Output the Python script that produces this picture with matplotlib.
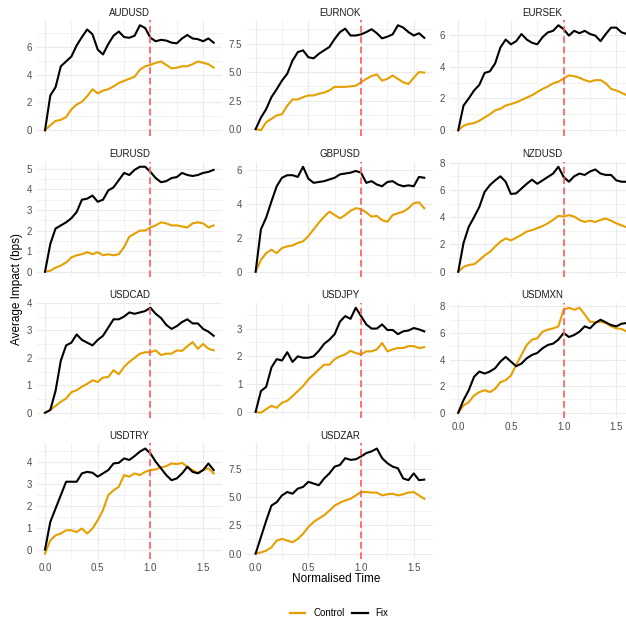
import matplotlib
matplotlib.use('Agg')
import matplotlib.pyplot as plt
from matplotlib.lines import Line2D
from matplotlib.ticker import FixedLocator, FixedFormatter

plt.rcParams['font.family'] = ['Liberation Sans', 'DejaVu Sans']

# ---------------- data ----------------
times = [0.0, 0.05, 0.1, 0.15, 0.2, 0.25, 0.3, 0.35, 0.4, 0.45, 0.5, 0.55, 0.6,
         0.65, 0.7, 0.75, 0.8, 0.85, 0.9, 0.95, 1.0, 1.05, 1.1, 1.15, 1.2, 1.25,
         1.3, 1.35, 1.4, 1.45, 1.5, 1.55, 1.6]

pairs = ['AUDUSD', 'EURNOK', 'EURSEK', 'EURUSD', 'GBPUSD', 'NZDUSD',
         'USDCAD', 'USDJPY', 'USDMXN', 'USDTRY', 'USDZAR']

AUDUSD_fix = [0, 2.5, 3.1, 4.6, 4.95, 5.3, 6.1, 6.7, 7.25, 6.9, 5.8, 5.45, 6.2, 6.8, 7.1, 6.7,
              6.65, 6.8, 7.55, 7.35, 6.65, 6.4, 6.5, 6.45, 6.3, 6.25, 6.6, 6.85, 6.6, 6.55, 6.4, 6.6, 6.3]
AUDUSD_control = [0, 0.36, 0.67, 0.75, 0.95, 1.5, 1.85, 2.05, 2.45, 2.95, 2.65, 2.85, 2.95, 3.15, 3.4, 3.55,
                  3.7, 3.85, 4.35, 4.6, 4.7, 4.85, 4.95, 4.7, 4.45, 4.5, 4.6, 4.6, 4.75, 4.95, 4.85, 4.75, 4.5]

EURNOK_fix = [0, 1.0, 1.75, 2.8, 3.5, 4.25, 4.85, 6.0, 6.75, 6.9, 6.3, 6.2, 6.6, 6.9, 7.2, 7.9,
              8.5, 8.8, 8.2, 8.2, 8.3, 8.5, 8.75, 8.4, 7.95, 8.1, 8.3, 9.1, 8.9, 8.5, 8.2, 8.4, 8.0]
EURNOK_control = [0, -0.1, 0.6, 0.9, 1.2, 1.3, 2.05, 2.6, 2.6, 2.8, 2.95, 2.95, 3.1, 3.2, 3.4, 3.7,
                  3.7, 3.7, 3.75, 3.8, 4.1, 4.4, 4.65, 4.8, 4.25, 4.4, 4.7, 4.4, 4.1, 3.95, 4.5, 5.0, 4.95]

EURSEK_fix = [0, 1.55, 2.0, 2.5, 2.85, 3.6, 3.7, 4.2, 5.2, 5.7, 5.4, 5.6, 6.05, 5.7, 5.5, 5.4,
              5.85, 6.15, 6.25, 6.6, 6.35, 5.95, 6.25, 6.1, 6.25, 6.05, 5.95, 5.6, 6.05, 6.45, 6.45, 6.15, 6.05]
EURSEK_control = [0, 0.28, 0.4, 0.45, 0.6, 0.8, 1.0, 1.25, 1.35, 1.55, 1.65, 1.75, 1.9, 2.05, 2.2, 2.4,
                  2.6, 2.75, 2.95, 3.05, 3.25, 3.45, 3.4, 3.3, 3.15, 3.05, 3.15, 3.15, 2.95, 2.6, 2.5, 2.35, 2.2]

EURUSD_fix = [0, 1.35, 2.1, 2.25, 2.4, 2.6, 2.9, 3.5, 3.55, 3.7, 3.4, 3.5, 3.95, 4.1, 4.45, 4.8,
              4.7, 4.95, 5.1, 5.1, 4.85, 4.55, 4.35, 4.4, 4.55, 4.6, 4.8, 4.7, 4.65, 4.7, 4.8, 4.85, 4.95]
EURUSD_control = [0, 0.05, 0.2, 0.3, 0.45, 0.7, 0.8, 0.85, 0.95, 0.85, 0.95, 0.8, 0.85, 0.8, 0.85, 1.2,
                  1.7, 1.85, 2.0, 2.0, 2.15, 2.25, 2.4, 2.35, 2.25, 2.25, 2.2, 2.15, 2.35, 2.4, 2.35, 2.15, 2.25]

GBPUSD_fix = [0, 2.5, 3.2, 4.15, 5.05, 5.55, 5.7, 5.7, 5.6, 6.2, 5.5, 5.25, 5.3, 5.35, 5.45, 5.55,
              5.75, 5.8, 5.85, 5.95, 5.85, 5.25, 5.35, 5.15, 5.05, 5.3, 5.35, 5.15, 5.05, 5.1, 5.05, 5.6, 5.55]
GBPUSD_control = [0, 0.7, 1.1, 1.3, 1.1, 1.4, 1.5, 1.55, 1.7, 1.8, 2.1, 2.5, 2.9, 3.25, 3.55, 3.35,
                  3.15, 3.35, 3.6, 3.75, 3.7, 3.5, 3.25, 3.3, 3.05, 2.95, 3.35, 3.45, 3.55, 3.75, 4.05, 4.1, 3.75]

NZDUSD_fix = [0, 2.1, 3.3, 4.0, 4.75, 5.85, 6.35, 6.7, 7.0, 6.6, 5.7, 5.75, 6.1, 6.45, 6.75, 6.45,
              6.7, 6.95, 7.2, 7.7, 6.95, 6.6, 7.0, 7.2, 7.1, 7.35, 7.5, 7.2, 7.1, 7.1, 6.7, 6.6, 6.6]
NZDUSD_control = [0, 0.35, 0.5, 0.55, 0.85, 1.2, 1.45, 1.85, 2.2, 2.45, 2.3, 2.5, 2.7, 2.95, 3.05, 3.2,
                  3.35, 3.55, 3.8, 4.1, 4.05, 4.15, 4.05, 3.8, 3.65, 3.75, 3.65, 3.8, 3.9, 3.75, 3.55, 3.4, 3.25]

USDCAD_fix = [0, 0.1, 0.8, 1.9, 2.45, 2.55, 2.85, 2.65, 2.55, 2.45, 2.65, 2.8, 3.1, 3.4, 3.4, 3.5,
              3.65, 3.6, 3.65, 3.7, 3.82, 3.6, 3.45, 3.2, 3.05, 3.15, 3.3, 3.4, 3.25, 3.25, 3.05, 2.95, 2.8]
USDCAD_control = [0, 0.1, 0.25, 0.4, 0.52, 0.75, 0.82, 0.95, 1.05, 1.18, 1.12, 1.28, 1.3, 1.55, 1.4, 1.67,
                  1.85, 2.0, 2.15, 2.2, 2.2, 2.27, 2.1, 2.15, 2.15, 2.27, 2.25, 2.42, 2.57, 2.33, 2.5, 2.33, 2.27]

USDJPY_fix = [0, 0.75, 0.9, 1.6, 1.9, 1.85, 2.15, 1.8, 2.0, 1.95, 1.95, 2.0, 2.2, 2.45, 2.6, 2.8,
              3.25, 3.45, 3.35, 3.75, 3.45, 3.15, 3.0, 3.0, 3.15, 2.95, 2.95, 2.8, 2.9, 2.93, 3.02, 2.97, 2.9]
USDJPY_control = [0, -0.03, 0.1, 0.22, 0.15, 0.33, 0.4, 0.57, 0.75, 0.93, 1.17, 1.35, 1.53, 1.7, 1.7, 1.9,
                  2.0, 2.07, 2.2, 2.12, 2.07, 2.18, 2.18, 2.25, 2.48, 2.18, 2.25, 2.3, 2.3, 2.37, 2.37, 2.3, 2.33]

USDMXN_fix = [0, 0.95, 1.7, 2.7, 3.1, 2.95, 3.1, 3.35, 3.85, 4.2, 3.85, 3.5, 3.7, 4.1, 4.35, 4.5,
              4.85, 5.1, 5.2, 5.5, 6.0, 5.7, 5.85, 6.1, 6.5, 6.35, 6.75, 7.0, 6.8, 6.6, 6.5, 6.7, 6.75]
USDMXN_control = [0, 0.55, 0.8, 1.3, 1.55, 1.7, 1.55, 1.8, 2.3, 2.45, 2.8, 3.6, 4.35, 5.1, 5.5, 5.6,
                  6.1, 6.25, 6.35, 6.5, 7.75, 7.9, 7.75, 7.9, 7.4, 6.85, 6.8, 6.85, 6.75, 6.5, 6.35, 6.3, 6.1]

USDTRY_fix = [0, 1.26, 1.87, 2.48, 3.09, 3.09, 3.09, 3.47, 3.54, 3.5, 3.32, 3.47, 3.62, 3.92, 3.95, 4.15,
              4.08, 4.26, 4.46, 4.6, 4.38, 4.0, 3.7, 3.39, 3.16, 3.24, 3.47, 3.77, 3.54, 3.47, 3.62, 3.92, 3.62]
USDTRY_control = [-0.18, 0.42, 0.65, 0.73, 0.88, 0.88, 0.8, 0.96, 0.73, 0.96, 1.34, 1.8, 2.48, 2.7, 2.86, 3.39,
                  3.32, 3.47, 3.39, 3.54, 3.62, 3.65, 3.74, 3.8, 3.92, 3.89, 3.95, 3.77, 3.62, 3.5, 3.62, 3.7, 3.47]

USDZAR_fix = [0, 1.45, 2.9, 4.25, 4.55, 5.15, 5.45, 5.3, 5.75, 5.9, 6.35, 6.2, 6.05, 6.65, 7.1, 7.7,
              7.85, 8.45, 8.3, 8.35, 8.6, 8.9, 9.05, 9.3, 8.45, 8.0, 7.7, 7.55, 6.65, 6.5, 7.1, 6.5, 6.55]
USDZAR_control = [0, 0.1, 0.25, 0.55, 1.15, 1.3, 1.15, 1.0, 1.3, 1.75, 2.35, 2.8, 3.1, 3.4, 3.8, 4.25,
                  4.5, 4.7, 4.85, 5.15, 5.45, 5.45, 5.4, 5.4, 5.15, 5.25, 5.3, 5.15, 5.25, 5.4, 5.45, 5.15, 4.85]

y_breaks = {
    'AUDUSD': [0, 2, 4, 6], 'EURNOK': [0, 2.5, 5, 7.5], 'EURSEK': [0, 2, 4, 6],
    'EURUSD': [0, 1, 2, 3, 4, 5], 'GBPUSD': [0, 2, 4, 6], 'NZDUSD': [0, 2, 4, 6, 8],
    'USDCAD': [0, 1, 2, 3, 4], 'USDJPY': [0, 1, 2, 3], 'USDMXN': [0, 2, 4, 6, 8],
    'USDTRY': [0, 1, 2, 3, 4], 'USDZAR': [0, 2.5, 5, 7.5],
}
x_breaks = [0.0, 0.5, 1.0, 1.5]
x_labels = ['0.0', '0.5', '1.0', '1.5']
fix_time = 1.0

series = {
    'AUDUSD': (AUDUSD_control, AUDUSD_fix), 'EURNOK': (EURNOK_control, EURNOK_fix),
    'EURSEK': (EURSEK_control, EURSEK_fix), 'EURUSD': (EURUSD_control, EURUSD_fix),
    'GBPUSD': (GBPUSD_control, GBPUSD_fix), 'NZDUSD': (NZDUSD_control, NZDUSD_fix),
    'USDCAD': (USDCAD_control, USDCAD_fix), 'USDJPY': (USDJPY_control, USDJPY_fix),
    'USDMXN': (USDMXN_control, USDMXN_fix), 'USDTRY': (USDTRY_control, USDTRY_fix),
    'USDZAR': (USDZAR_control, USDZAR_fix),
}

# ---------------- layout ----------------
W, H = 626, 622
fig = plt.figure(figsize=(W / 100, H / 100), dpi=100)
fig.patch.set_facecolor('white')

col_left = [36.6, 247.2, 449.8]
panel_w = 185.5
row_top = [20.0, 161.5, 302.5, 443.3]
panel_h = 115.5

CTRL = '#E69F00'
FIX = '#000000'
GRID = '#ebebeb'

bottom_panels = {'USDTRY', 'USDZAR', 'USDMXN'}

for i, name in enumerate(pairs):
    r, c = divmod(i, 3)
    l = col_left[c]
    t = row_top[r]
    ax = fig.add_axes([l / W, 1 - (t + panel_h) / H, panel_w / W, panel_h / H])
    ctrl, fix = series[name]
    ax.plot(times, ctrl, color=CTRL, lw=1.5, zorder=3, solid_joinstyle='round')
    ax.plot(times, fix, color=FIX, lw=1.5, zorder=4, solid_joinstyle='round')
    ax.axvline(fix_time, color='#ff5c5c', lw=1.2, ls=(0, (4, 2.2)), zorder=5)
    ax.margins(x=0.05, y=0.05)

    yb = y_breaks[name]
    step = yb[1] - yb[0]
    ax.yaxis.set_major_locator(FixedLocator(yb))
    if any(isinstance(v, float) for v in yb):
        ylab = ['%.1f' % v for v in yb]
    else:
        ylab = ['%d' % v for v in yb]
    ax.yaxis.set_major_formatter(FixedFormatter(ylab))
    yminor = [yb[0] - step / 2] + [v + step / 2 for v in yb]
    ax.yaxis.set_minor_locator(FixedLocator(yminor))

    ax.xaxis.set_major_locator(FixedLocator(x_breaks))
    ax.xaxis.set_major_formatter(FixedFormatter(x_labels))
    ax.xaxis.set_minor_locator(FixedLocator([0.25, 0.75, 1.25]))

    ax.grid(which='major', color=GRID, lw=0.8, zorder=0)
    ax.grid(which='minor', color=GRID, lw=0.45, zorder=0)
    ax.set_axisbelow(True)
    for sp in ax.spines.values():
        sp.set_visible(False)
    ax.tick_params(which='both', length=0, labelsize=7, labelcolor='#4d4d4d')
    ax.tick_params(axis='y', pad=3.5)
    ax.tick_params(axis='x', pad=3)
    if name not in bottom_panels:
        ax.tick_params(axis='x', labelbottom=False)
    ax.set_title(name, fontsize=7, color='#1a1a1a', pad=3)

fig.text(17 / W, 1 - 289 / H, 'Average Impact (bps)', rotation=90,
         ha='center', va='center', fontsize=8.5, color='black')
fig.text(336 / W, 1 - 579 / H, 'Normalised Time', ha='center', va='center',
         fontsize=8.5, color='black')

handles = [Line2D([], [], color=CTRL, lw=1.6), Line2D([], [], color=FIX, lw=1.6)]
fig.legend(handles, ['Control', 'Fix'], loc='center', bbox_to_anchor=(339 / W, 1 - 613.5 / H),
           ncol=2, frameon=False, fontsize=7, handlelength=1.6, handletextpad=0.8,
           columnspacing=0.8)

fig.savefig('out.png', dpi=100, facecolor='white')
